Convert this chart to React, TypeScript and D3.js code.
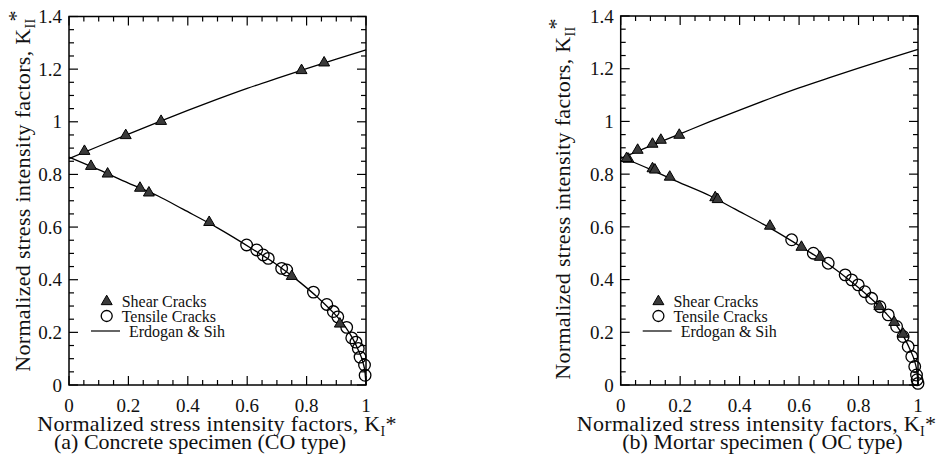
import React from "react";
import * as d3 from "d3";

// ---- data ----
const xTickValues = [0, 0.2, 0.4, 0.6, 0.8, 1];
const xTickLabels = ["0", "0.2", "0.4", "0.6", "0.8", "1"];
const yTickValues = [0, 0.2, 0.4, 0.6, 0.8, 1, 1.2, 1.4];
const yTickLabels = ["0", "0.2", "0.4", "0.6", "0.8", "1", "1.2", "1.4"];
const minorTickValues = d3.range(0, 29).map((i) => i * 0.05);

// Erdogan & Sih curve, upper and lower branches [K_I*, K_II*]
const curveUpper: [number, number][] = [
  [0, 0.86], [0.1, 0.907], [0.2, 0.953], [0.3, 0.999], [0.4, 1.043], [0.5, 1.086],
  [0.6, 1.127], [0.7, 1.165], [0.8, 1.202], [0.9, 1.238], [1.0, 1.273],
];
const curveLower: [number, number][] = [
  [0, 0.866], [0.1, 0.818], [0.2, 0.767], [0.3, 0.718], [0.385, 0.667], [0.5, 0.597],
  [0.62, 0.515], [0.7, 0.457], [0.78, 0.388], [0.84, 0.33], [0.89, 0.275], [0.93, 0.222],
  [0.955, 0.177], [0.975, 0.13], [0.99, 0.085], [0.997, 0.045], [1.0, 0.0],
];

// (a) Concrete specimen
const shearA: [number, number][] = [
  [0.052, 0.89], [0.191, 0.95], [0.31, 1.004], [0.783, 1.197], [0.859, 1.226],
  [0.074, 0.833], [0.13, 0.804], [0.239, 0.75], [0.269, 0.732], [0.472, 0.62],
  [0.75, 0.415], [0.912, 0.234],
];
const tensileA: [number, number][] = [
  [0.598, 0.532], [0.632, 0.513], [0.654, 0.494], [0.671, 0.481], [0.716, 0.443],
  [0.733, 0.437], [0.823, 0.353], [0.868, 0.306], [0.89, 0.279], [0.905, 0.259],
  [0.935, 0.219], [0.952, 0.179], [0.966, 0.163], [0.974, 0.139], [0.98, 0.106],
  [0.995, 0.076], [0.997, 0.037],
];

// (b) Mortar specimen
const shearB: [number, number][] = [
  [0.026, 0.859], [0.057, 0.893], [0.107, 0.916], [0.135, 0.931], [0.197, 0.95],
  [0.02, 0.862], [0.107, 0.823], [0.115, 0.818], [0.165, 0.791], [0.318, 0.713],
  [0.326, 0.706], [0.502, 0.605], [0.608, 0.525], [0.67, 0.487], [0.87, 0.3],
  [0.92, 0.24], [0.95, 0.195],
];
const tensileB: [number, number][] = [
  [0.575, 0.551], [0.648, 0.5], [0.698, 0.462], [0.755, 0.418], [0.777, 0.399],
  [0.799, 0.38], [0.821, 0.354], [0.844, 0.329], [0.872, 0.297], [0.9, 0.266],
  [0.928, 0.222], [0.95, 0.184], [0.967, 0.146], [0.979, 0.108], [0.989, 0.07],
  [0.995, 0.038], [0.997, 0.02], [1.0, 0.006],
];

const legendLabels = ["Shear Cracks", "Tensile Cracks", "Erdogan & Sih"];
const FONT = "Liberation Serif, Times New Roman, DejaVu Serif, serif";

type PanelProps = {
  left: number; right: number; top: number; bottom: number;
  shear: [number, number][]; tensile: [number, number][];
  yLabelX: number; yLabelY: number;
  xLabelX: number; caption: string; captionX: number;
};

function Panel(p: PanelProps) {
  const x = d3.scaleLinear().domain([0, 1]).range([p.left, p.right]);
  const y = d3.scaleLinear().domain([0, 1.4]).range([p.bottom, p.top]);
  const line = d3.line<[number, number]>().x((d) => x(d[0])).y((d) => y(d[1])).curve(d3.curveMonotoneX);
  const tri = d3.symbol().type(d3.symbolTriangle).size(52)() as string;
  const isMajor = (v: number) => Math.abs(v / 0.2 - Math.round(v / 0.2)) < 1e-6;
  const xMinor = minorTickValues.filter((v) => v <= 1 + 1e-9);
  const yMinor = minorTickValues.filter((v) => v <= 1.4 + 1e-9);
  const legX = p.left;
  const rowY = [301, 316, 331];
  return (
    <g>
      <g stroke="#000" strokeWidth={1.2}>
        {xMinor.map((v, i) => {
          const len = isMajor(v) ? 9 : 5;
          return (
            <g key={"xt" + i}>
              <line x1={x(v)} x2={x(v)} y1={p.bottom} y2={p.bottom - len} />
              <line x1={x(v)} x2={x(v)} y1={p.top} y2={p.top + len} />
            </g>
          );
        })}
        {yMinor.map((v, i) => {
          const len = isMajor(v) ? 9 : 5;
          return (
            <g key={"yt" + i}>
              <line x1={p.left} x2={p.left + len} y1={y(v)} y2={y(v)} />
              <line x1={p.right} x2={p.right - len} y1={y(v)} y2={y(v)} />
            </g>
          );
        })}
      </g>
      <rect x={p.left} y={p.top} width={p.right - p.left} height={p.bottom - p.top}
        fill="none" stroke="#000" strokeWidth={1.5} />
      <g style={{ fontFamily: FONT, fontSize: "19px" }} fill="#111">
        {xTickValues.map((v, i) => (
          <text key={"xl" + i} x={x(v)} y={p.bottom + 27} textAnchor="middle">{xTickLabels[i]}</text>
        ))}
        {yTickValues.map((v, i) => (
          <text key={"yl" + i} x={p.left - 7} y={y(v)} dy="0.35em" textAnchor="end">{yTickLabels[i]}</text>
        ))}
      </g>
      <path d={line(curveUpper) as string} fill="none" stroke="#000" strokeWidth={1.3} />
      <path d={line(curveLower) as string} fill="none" stroke="#000" strokeWidth={1.3} />
      {p.tensile.map((d, i) => (
        <circle key={"c" + i} cx={x(d[0])} cy={y(d[1])} r={5.8} fill="none" stroke="#000" strokeWidth={1.3} />
      ))}
      {p.shear.map((d, i) => (
        <path key={"s" + i} d={tri} transform={`translate(${x(d[0])},${y(d[1]) + 0.5})`}
          fill="#3a3a3a" stroke="#000" strokeWidth={1} />
      ))}
      <path d={tri} transform={`translate(${legX + 37.7},${rowY[0] + 0.5})`} fill="#3a3a3a" stroke="#000" strokeWidth={1} />
      <circle cx={legX + 37.7} cy={rowY[1]} r={5.5} fill="none" stroke="#000" strokeWidth={1.3} />
      <line x1={legX + 22} x2={legX + 51} y1={rowY[2]} y2={rowY[2]} stroke="#000" strokeWidth={1.2} />
      <g style={{ fontFamily: FONT, fontSize: "16px" }} fill="#111">
        <text x={legX + 52.7} y={rowY[0]} dy="0.35em">{legendLabels[0]}</text>
        <text x={legX + 52.7} y={rowY[1]} dy="0.35em">{legendLabels[1]}</text>
        <text x={legX + 60} y={rowY[2]} dy="0.35em">{legendLabels[2]}</text>
      </g>
      <g style={{ fontFamily: FONT, fontSize: "22px", letterSpacing: "0.3px" }} fill="#111">
        <text x={p.xLabelX} y={431} textAnchor="middle">
          Normalized stress intensity factors, K<tspan style={{ fontSize: "14px" }} dy={5}>I</tspan><tspan dy={-5}>*</tspan>
        </text>
        <text transform={`translate(${p.yLabelX},${p.yLabelY}) rotate(-90)`} textAnchor="middle">
          Normalized stress intensity factors, K<tspan style={{ fontSize: "14px" }} dy={5}>II</tspan><tspan dx={-3} dy={-12}>*</tspan>
        </text>
      </g>
      <text x={p.captionX} y={449} textAnchor="middle" style={{ fontFamily: FONT, fontSize: "22px" }} fill="#111">
        {p.caption}
      </text>
    </g>
  );
}

export default function App() {
  return (
    <svg width={943} height={462} style={{ position: "absolute", left: 0, top: 0, background: "#fff" }}>
      <rect width={943} height={462} fill="#fff" />
      <Panel left={69} right={366} top={16.5} bottom={385} shear={shearA} tensile={tensileA}
        yLabelX={29.5} yLabelY={191} xLabelX={217} caption="(a) Concrete specimen (CO type)" captionX={200} />
      <Panel left={620.7} right={918} top={16} bottom={385} shear={shearB} tensile={tensileB}
        yLabelX={569.5} yLabelY={199} xLabelX={756.5} caption="(b) Mortar specimen ( OC type)" captionX={762.5} />
    </svg>
  );
}
